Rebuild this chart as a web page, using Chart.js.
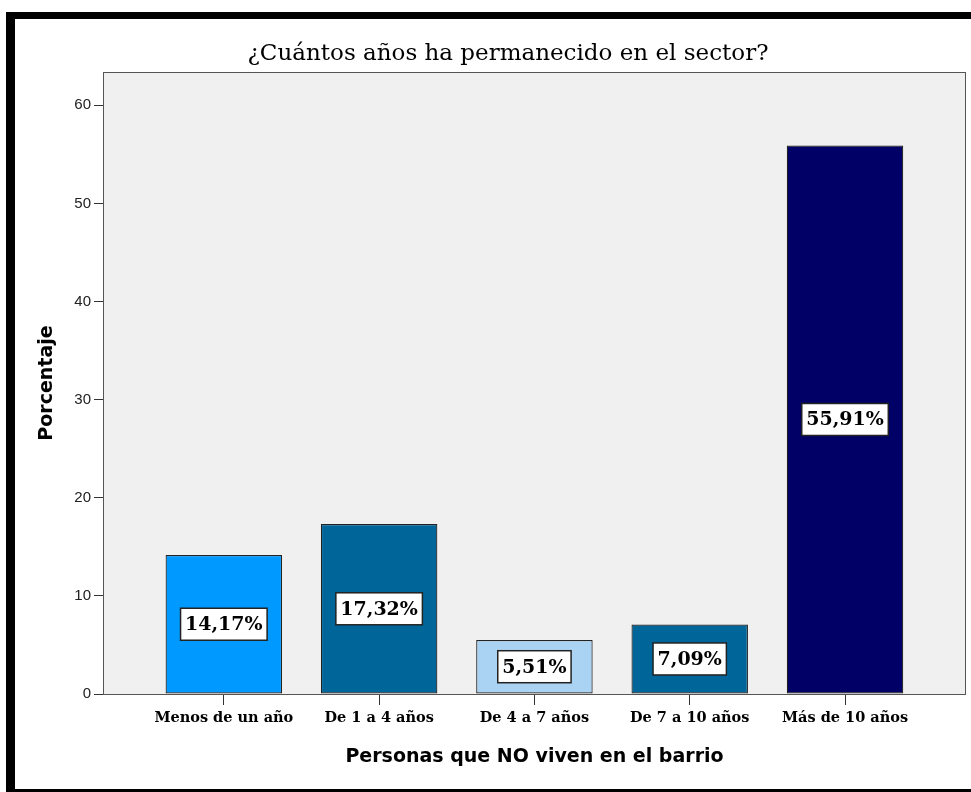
<!DOCTYPE html>
<html lang="es">
<head>
  <meta charset="UTF-8">
  <title>¿Cuántos años ha permanecido en el sector?</title>
  <script src="https://cdn.jsdelivr.net/npm/chart.js"></script>
  <style>
    body { margin: 0; background: #fff; overflow: hidden; }
    canvas { display: block; }
  </style>
</head>
<body>
  <canvas id="sectorChart" width="971" height="792"></canvas>

  <script>
    // data
    const categories = ["Menos de un año", "De 1 a 4 años", "De 4 a 7 años", "De 7 a 10 años", "Más de 10 años"];
    const percentages = [14.17, 17.32, 5.51, 7.09, 55.91];
    const barColors = ["#0099ff", "#006699", "#aad2f2", "#006699", "#000066"];
    const yTicks = [0, 10, 20, 30, 40, 50, 60];
    const chartTitle = '¿Cuántos años ha permanecido en el sector?';

    const serif = "'DejaVu Serif', serif";
    const sans = "'DejaVu Sans', sans-serif";

    // black frame, grey plot background, title
    const framePlugin = {
      id: 'frame',
      beforeDraw(chart) {
        const {ctx, chartArea: a} = chart;
        ctx.save();
        ctx.fillStyle = '#fff';
        ctx.fillRect(0, 0, chart.width, chart.height);
        ctx.fillStyle = '#000';
        ctx.fillRect(6, 12, 9, 780);
        ctx.fillRect(6, 12, chart.width, 7);
        ctx.fillRect(6, 789, chart.width, 4);
        ctx.fillStyle = '#f0f0f0';
        ctx.fillRect(a.left, a.top, a.right - a.left, a.bottom - a.top);

        ctx.fillStyle = '#000';
        ctx.font = "23px " + serif;
        ctx.textAlign = 'center';
        ctx.textBaseline = 'middle';
        ctx.fillText(chartTitle, 508, 54);
        ctx.restore();
      },
      afterDatasetsDraw(chart) {
        const {ctx, chartArea: a} = chart;
        ctx.save();
        ctx.strokeStyle = '#555';
        ctx.lineWidth = 1;
        ctx.strokeRect(a.left + 0.5, a.top + 0.5, a.right - a.left - 1, a.bottom - a.top);
        ctx.restore();
      }
    };

    // white value boxes in the middle of each bar
    const valueBoxes = {
      id: 'valueBoxes',
      afterDatasetsDraw(chart) {
        const {ctx} = chart;
        const meta = chart.getDatasetMeta(0);
        ctx.save();
        ctx.font = "bold 19px " + serif;
        ctx.textAlign = 'center';
        ctx.textBaseline = 'middle';
        meta.data.forEach((bar, i) => {
          const txt = percentages[i].toFixed(2).replace('.', ',') + '%';
          const w = ctx.measureText(txt).width + 9;
          const h = 32;
          const cx = bar.x;
          const cy = (bar.y + bar.base) / 2;
          ctx.fillStyle = '#fff';
          ctx.fillRect(cx - w / 2, cy - h / 2, w, h);
          ctx.strokeStyle = '#222';
          ctx.lineWidth = 1.5;
          ctx.strokeRect(cx - w / 2, cy - h / 2, w, h);
          ctx.fillStyle = '#000';
          ctx.fillText(txt, cx, cy + 1);
        });
        ctx.restore();
      }
    };

    const ctx = document.getElementById('sectorChart').getContext('2d');
    new Chart(ctx, {
      type: 'bar',
      data: {
        datasets: [{
          data: percentages.map((v, i) => ({x: i, y: v})),
          backgroundColor: barColors,
          borderColor: '#222',
          borderWidth: 1.2,
          borderSkipped: false,
          barPercentage: 0.75,
          categoryPercentage: 1
        }]
      },
      options: {
        responsive: false,
        animation: false,
        devicePixelRatio: 1,
        layout: { padding: { left: 0, top: 72, right: 5, bottom: 0 } },
        plugins: {
          legend: { display: false },
          tooltip: { enabled: false }
        },
        scales: {
          x: {
            type: 'linear',
            min: -0.778,
            max: 4.779,
            offset: false,
            afterFit: s => { s.height = 98; },
            afterBuildTicks: s => { s.ticks = categories.map((c, i) => ({value: i})); },
            grid: { offset: false, drawOnChartArea: false, tickLength: 11, color: '#333' },
            border: { display: false },
            ticks: {
              callback: v => categories[v],
              color: '#000',
              padding: 5,
              maxRotation: 0,
              autoSkip: false,
              font: { family: serif, size: 14.5, weight: 'bold' }
            },
            title: {
              display: true,
              text: 'Personas que NO viven en el barrio',
              color: '#000',
              font: { family: sans, size: 19, weight: 'bold' },
              padding: { top: 0, bottom: 23.6 }
            }
          },
          y: {
            min: 0,
            max: 63.4,
            afterFit: s => { s.width = 103; },
            afterBuildTicks: s => { s.ticks = yTicks.map(v => ({value: v})); },
            grid: { drawOnChartArea: false, tickLength: 9, color: '#333' },
            border: { display: false },
            ticks: {
              color: '#222',
              padding: 3,
              font: { family: "'Liberation Sans', sans-serif", size: 15 }
            },
            title: {
              display: true,
              text: 'Porcentaje',
              color: '#000',
              font: { family: sans, size: 19, weight: 'bold' },
              padding: { top: 36, bottom: 0 }
            }
          }
        }
      },
      plugins: [framePlugin, valueBoxes]
    });
  </script>
</body>
</html>
